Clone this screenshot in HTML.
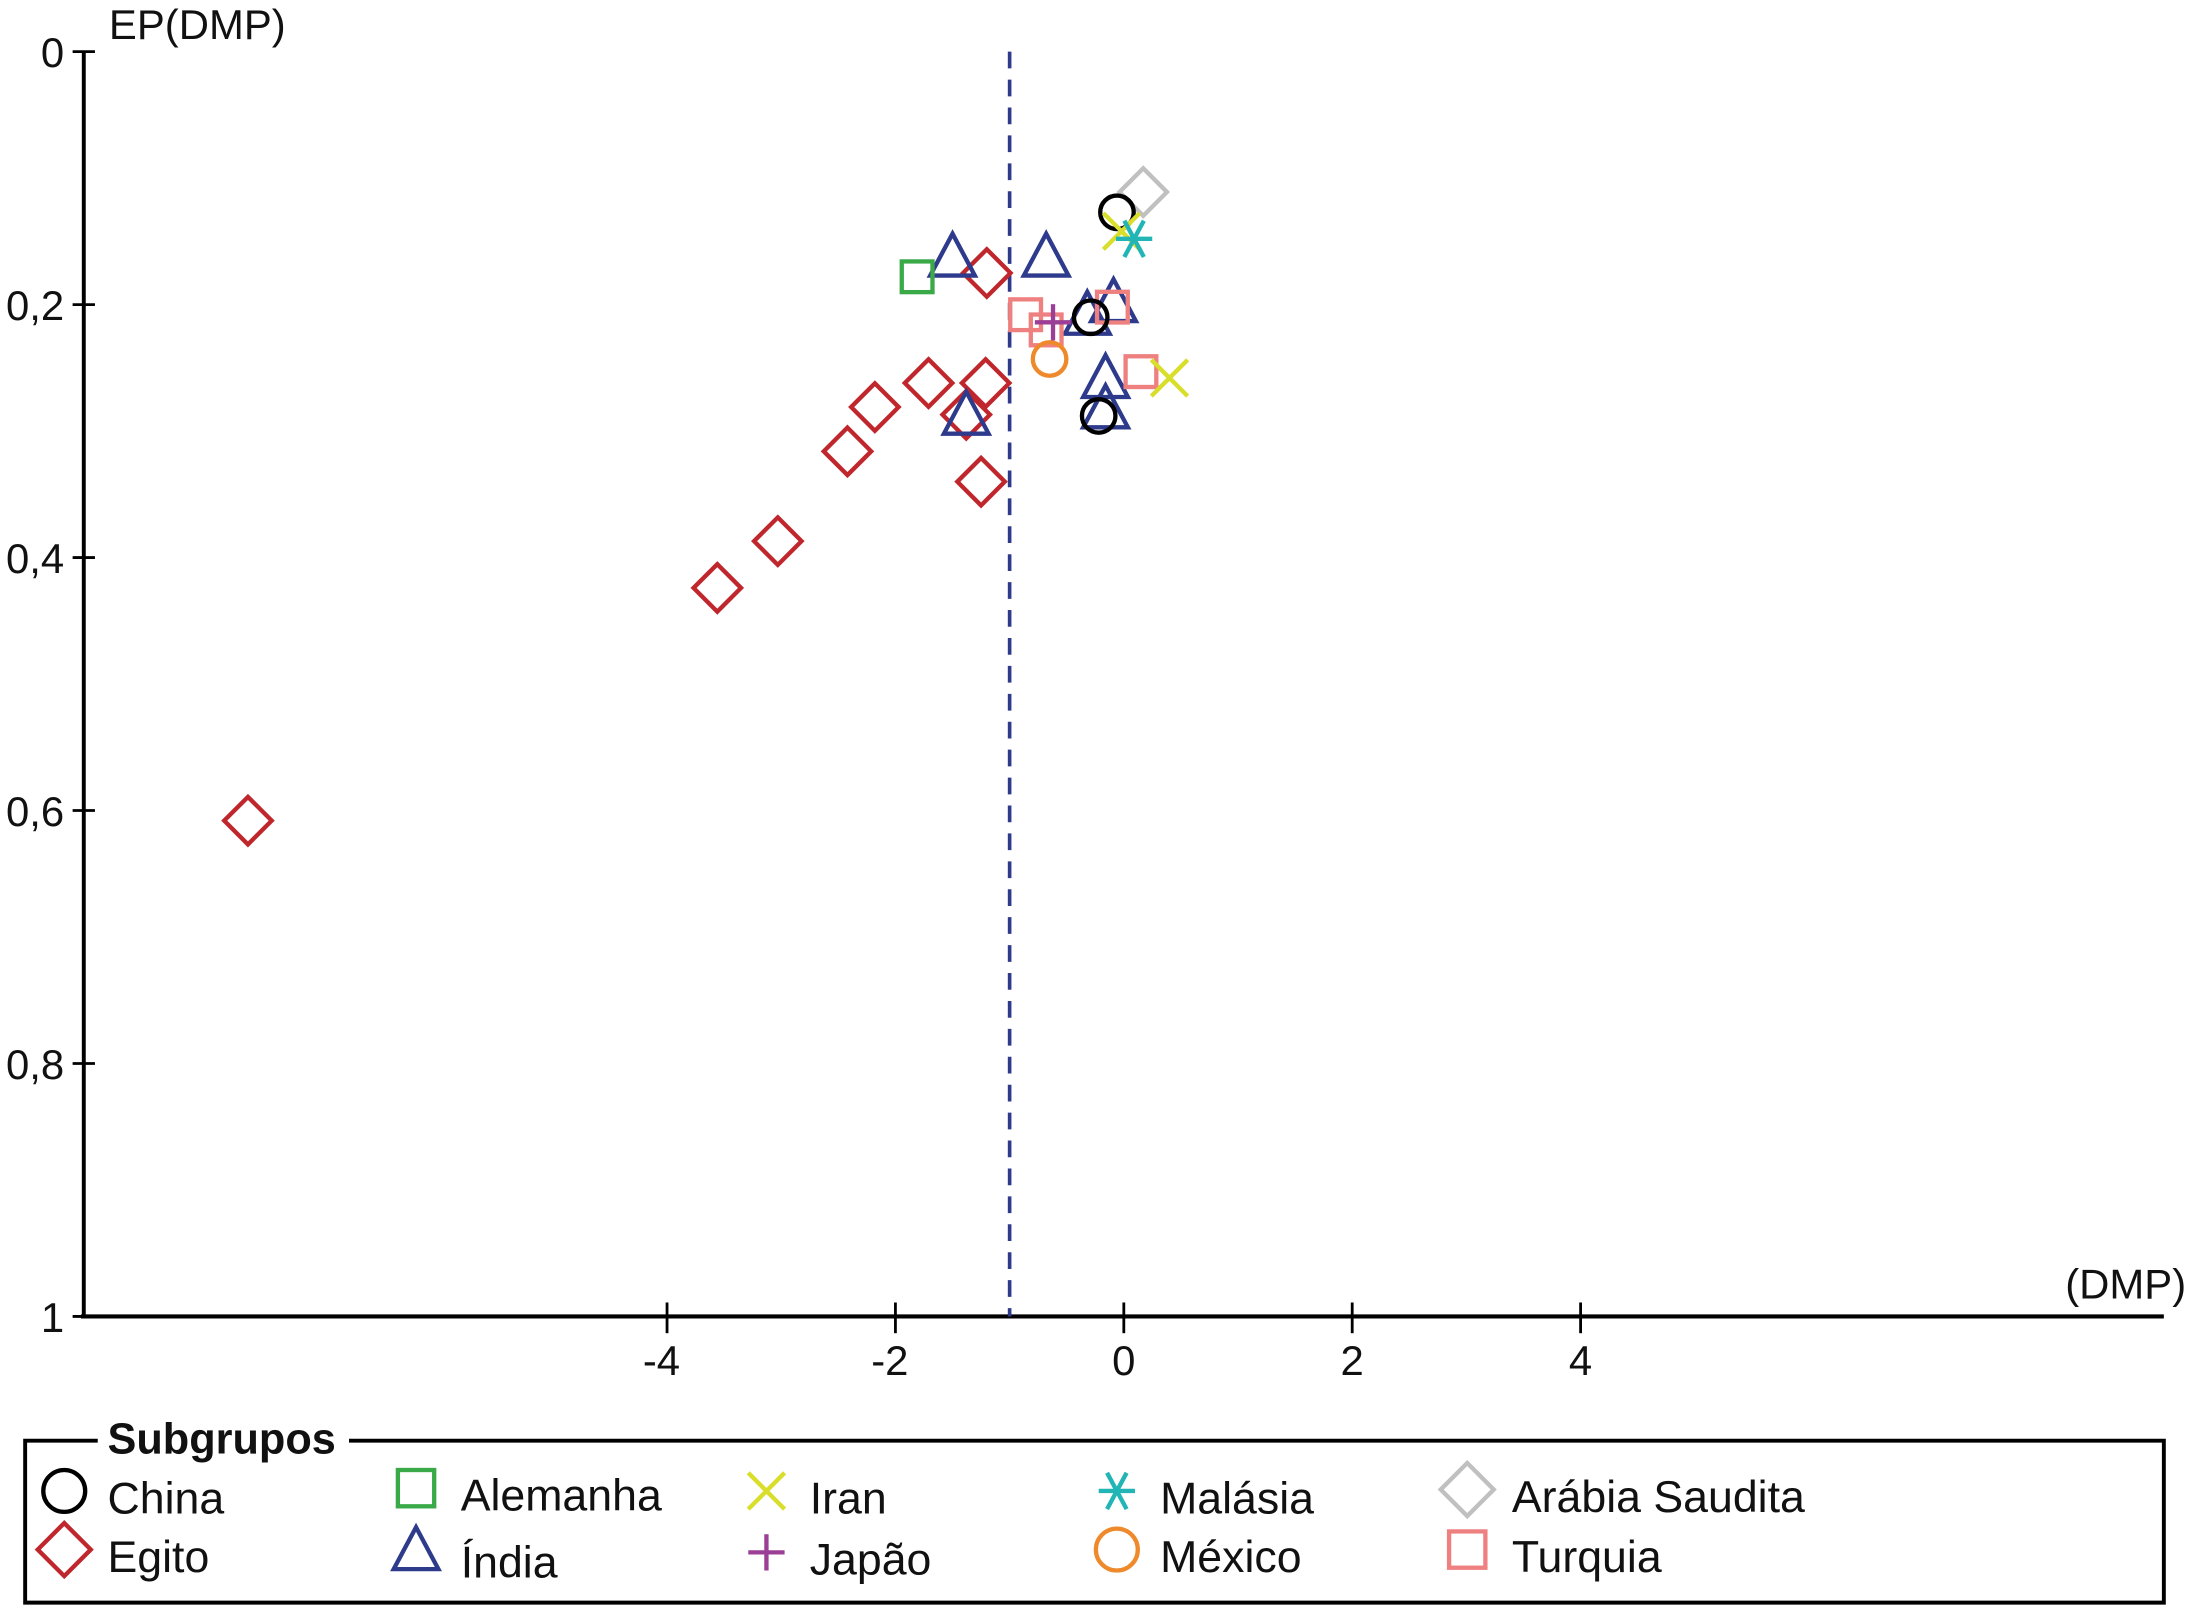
<!DOCTYPE html>
<html><head><meta charset="utf-8"><style>
html,body{margin:0;padding:0;background:#fff}
svg{display:block}
text{font-family:"Liberation Sans",Arial,sans-serif;fill:#111}
</style></head><body>
<svg id="chart" width="2189" height="1605" viewBox="0 0 1568 1149.7" xmlns="http://www.w3.org/2000/svg">
<g id="axes"></g>
<g id="marks"></g>
<g id="legend"></g>
</svg>
<script>
const xTicks=[-4,-2,0,2,4];
const yTicks=[0,0.2,0.4,0.6,0.8,1];
const yTickLabels=["0","0,2","0,4","0,6","0,8","1"];
const refLine=-1.0;
const egitoX=[-7.67,-3.56,-3.03,-2.42,-2.18,-1.71,-1.21,-1.25,-1.20,-1.38];
const egitoY=[0.608,0.424,0.387,0.316,0.281,0.262,0.262,0.340,0.175,0.287];
const chinaX=[-0.06,-0.29,-0.22];
const chinaY=[0.127,0.210,0.288];
const alemanhaX=[-1.81];
const alemanhaY=[0.178];
const indiaX=[-1.50,-0.68,-0.32,-0.09,-0.16,-0.16,-1.38];
const indiaY=[0.166,0.166,0.212,0.202,0.262,0.286,0.291];
const iranX=[-0.02,0.40];
const iranY=[0.142,0.258];
const japaoX=[-0.62];
const japaoY=[0.214];
const malasiaX=[0.09];
const malasiaY=[0.148];
const mexicoX=[-0.65];
const mexicoY=[0.243];
const saudiX=[0.17];
const saudiY=[0.111];
const turquiaX=[-0.86,-0.68,-0.10,0.15];
const turquiaY=[0.208,0.220,0.202,0.253];

const NS="http://www.w3.org/2000/svg";
const xs=v=>805+81.8*v;
const ys=v=>37+906*v;
function mk(tag,attrs,parent,txt){const e=document.createElementNS(NS,tag);for(const k in attrs)e.setAttribute(k,attrs[k]);if(txt!==undefined)e.textContent=txt;parent.appendChild(e);return e;}
const axes=document.getElementById('axes'),marks=document.getElementById('marks'),legend=document.getElementById('legend');

let e;
e=mk('line',{x1:60,y1:37,x2:60,y2:943,stroke:'#000','stroke-width':2.8},axes);


e=mk('line',{x1:58,y1:943,x2:1550,y2:943,stroke:'#000','stroke-width':3},axes);


xTicks.forEach(t=>{
 e=mk('line',{x1:xs(t),y1:933,x2:xs(t),y2:955,stroke:'#000','stroke-width':2},axes);
 
 
 e=mk('text',{x:xs(t)-(t<0?4:0),y:985,'font-size':30,'text-anchor':'middle'},axes,String(t));
 
 
});
yTicks.forEach((t,i)=>{
 e=mk('line',{x1:52,y1:ys(t),x2:68,y2:ys(t),stroke:'#000','stroke-width':2},axes);
 
 
 e=mk('text',{x:46,y:ys(t)+11,'font-size':30,'text-anchor':'end'},axes,yTickLabels[i]);
 
 
});
e=mk('text',{x:78,y:28,'font-size':30},axes,'EP(DMP)');


e=mk('text',{x:1566,y:930,'font-size':30,'text-anchor':'end'},axes,'(DMP)');


e=mk('line',{x1:xs(refLine),y1:37,x2:xs(refLine),y2:943,stroke:'#2e3a8c','stroke-width':2.6,'stroke-dasharray':'12 8'},axes);



const SW=3.1;
function shape(type,cx,cy,color,parent){
 const g=mk('g',{fill:'none',stroke:color,'stroke-width':SW},parent);
 if(type==='circle')mk('circle',{cx:cx,cy:cy,r:12},g);
 else if(type==='diamond')mk('polygon',{points:`${cx},${cy-17} ${cx+17},${cy} ${cx},${cy+17} ${cx-17},${cy}`},g);
 else if(type==='square')mk('rect',{x:cx-11,y:cy-11,width:22,height:22},g);
 else if(type==='triangle')mk('polygon',{points:`${cx},${cy-20} ${cx+16},${cy+10} ${cx-16},${cy+10}`},g);
 else if(type==='x'){mk('line',{x1:cx-13,y1:cy-13,x2:cx+13,y2:cy+13},g);mk('line',{x1:cx+13,y1:cy-13,x2:cx-13,y2:cy+13},g);}
 else if(type==='plus'){mk('line',{x1:cx-13,y1:cy,x2:cx+13,y2:cy},g);mk('line',{x1:cx,y1:cy-13,x2:cx,y2:cy+13},g);}
 else if(type==='star'){mk('line',{x1:cx-13,y1:cy,x2:cx+13,y2:cy},g);mk('line',{x1:cx-7,y1:cy-13,x2:cx+7,y2:cy+13},g);mk('line',{x1:cx+7,y1:cy-13,x2:cx-7,y2:cy+13},g);}
 return g;
}
const series=[
 ['egito','diamond','#c0272d',egitoX,egitoY],
 ['india','triangle','#2e3a8c',indiaX,indiaY],
 ['alemanha','square','#3aaa48',alemanhaX,alemanhaY],
 ['turquia','square','#ee8080',turquiaX,turquiaY],
 ['mexico','circle','#ee8a2c',mexicoX,mexicoY],
 ['japao','plus','#9b3f96',japaoX,japaoY],
 ['saudi','diamond','#c0c0c0',saudiX,saudiY],
 ['china','circle','#000',chinaX,chinaY],
 ['iran','x','#d9de2a',iranX,iranY],
 ['malasia','star','#22b5b5',malasiaX,malasiaY]
];
series.forEach(s=>{
 s[3].forEach((xv,i)=>{
  const g=shape(s[1],xs(xv),ys(s[4][i]),s[2],marks);
  
  
 });
});

e=mk('path',{d:'M70,1032 H18 V1148 H1550 V1032 H250',fill:'none',stroke:'#000','stroke-width':2.8},legend);


e=mk('text',{x:77,y:1041,'font-size':31,'font-weight':'bold'},legend,'Subgrupos');


const legItems=[
 ['China','circle','#000',46,77,1068],
 ['Egito','diamond','#c0272d',46,77,1110],
 ['Alemanha','square','#3aaa48',298,330,1066],
 ['Índia','triangle','#2e3a8c',298,330,1114],
 ['Iran','x','#d9de2a',549,580,1068],
 ['Japão','plus','#9b3f96',549,580,1112],
 ['Malásia','star','#22b5b5',800,831,1068],
 ['México','circle','#ee8a2c',800,831,1110],
 ['Arábia Saudita','diamond','#c0c0c0',1051,1083,1067],
 ['Turquia','square','#ee8080',1051,1083,1110]
];
legItems.forEach(it=>{
 const g=mk('g',{},legend);
 
 
 const m=shape(it[1],it[3],it[5],it[2],g);
 if(it[1]==='circle'){m.firstChild.setAttribute('r',15);}
 if(it[1]==='diamond'){m.firstChild.setAttribute('points',`${it[3]},${it[5]-19} ${it[3]+19},${it[5]} ${it[3]},${it[5]+19} ${it[3]-19},${it[5]}`);}
 if(it[1]==='square'){m.firstChild.setAttribute('x',it[3]-13);m.firstChild.setAttribute('y',it[5]-13);m.firstChild.setAttribute('width',26);m.firstChild.setAttribute('height',26);}
 const t=mk('text',{x:it[4],y:it[5]+16,'font-size':32,fill:'#333'},g,it[0]);
 
 
});
</script>
</body></html>
